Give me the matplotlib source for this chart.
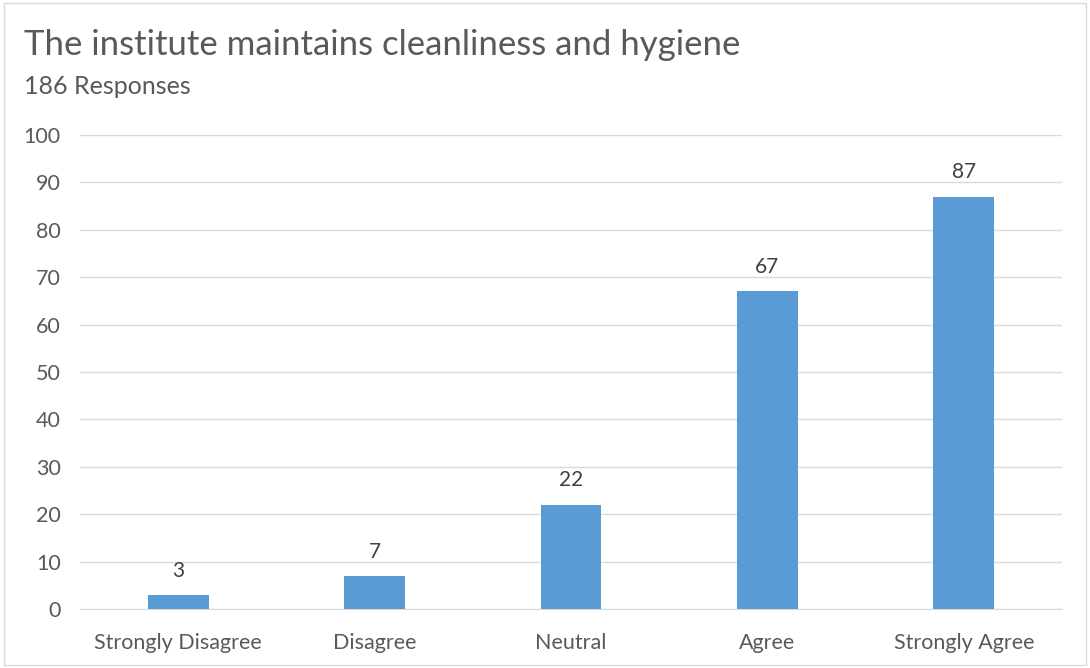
import matplotlib.pyplot as plt
from matplotlib.patches import Rectangle

categories = ['Strongly Disagree', 'Disagree', 'Neutral', 'Agree', 'Strongly Agree']
responses = [3, 7, 22, 67, 87]
title = 'The institute maintains cleanliness and hygiene'
subtitle = '186 Responses'

plt.rcParams['font.family'] = ['Lato', 'DejaVu Sans']
txt = '#595959'

fig = plt.figure(figsize=(10.9, 6.68), dpi=100)
# outer chart border
fig.patches.append(Rectangle((0.004, 0.004), 0.992, 0.992, transform=fig.transFigure,
                             fill=False, edgecolor='#d9d9d9', linewidth=1))

ax = fig.add_axes([80/1090, 1 - 609/668, (1062-80)/1090, (609-135)/668])
x = range(len(categories))
bars = ax.bar(x, responses, width=0.31, color='#5b9bd5', zorder=3)
for b, v in zip(bars, responses):
    ax.text(b.get_x() + b.get_width()/2, v + 3, str(v), ha='center', va='bottom',
            fontsize=15, color='#404040')

ax.set_xlim(-0.5, len(categories) - 0.5)
ax.set_ylim(0, 100)
ax.set_yticks(range(0, 101, 10))
ax.set_xticks(list(x))
ax.set_xticklabels(categories)
ax.tick_params(axis='both', length=0, labelsize=15.5, colors=txt)
ax.tick_params(axis='y', pad=14)
ax.tick_params(axis='x', pad=17)
ax.grid(axis='y', color='#d9d9d9', linewidth=1, zorder=0)
for s in ['top', 'right', 'left']:
    ax.spines[s].set_visible(False)
ax.spines['bottom'].set_color('#d9d9d9')

fig.text(24/1090, 1 - 45/668, title, fontsize=25, color=txt, va='center', ha='left')
fig.text(24/1090, 1 - 86/668, subtitle, fontsize=18, color=txt, va='center', ha='left')

plt.savefig('out.png', dpi=100)
